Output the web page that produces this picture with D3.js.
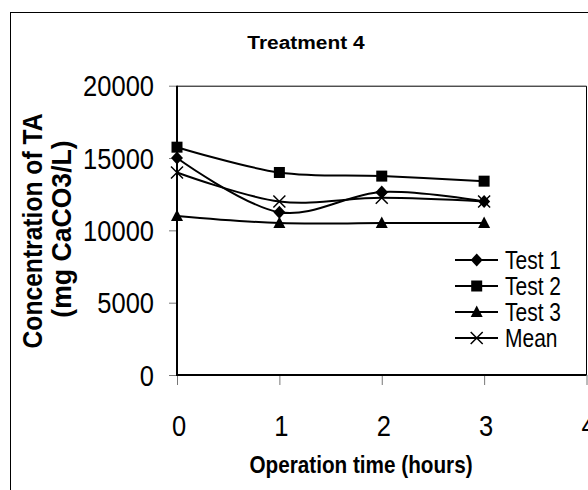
<!DOCTYPE html>
<html><head><meta charset="utf-8">
<script src="https://cdn.jsdelivr.net/npm/d3@7"></script>
<style>html,body{margin:0;padding:0;background:#fff;}svg{display:block;}</style>
</head><body>
<script>
const hours = [0, 1, 2, 3];
const test1 = [15000, 11250, 12650, 12000];
const test2 = [15750, 14000, 13750, 13400];
const test3 = [11000, 10500, 10500, 10500];
const meanV = [14000, 12000, 12250, 12000];
const seriesNames = ["Test 1", "Test 2", "Test 3", "Mean"];
const markerTypes = ["diamond", "square", "triangle", "x"];
const yTicks = [0, 5000, 10000, 15000, 20000];
const xTicks = [0, 1, 2, 3, 4];
const chartTitle = "Treatment 4";
const yTitle1 = "Concentration of TA";
const yTitle2 = "(mg CaCO3/L)";
const xTitle = "Operation time (hours)";

const W = 588, H = 490;
const FONT = "'Liberation Sans', Arial, sans-serif";
const svg = d3.select("body").append("svg").attr("width", W).attr("height", H);

// outer chart border
svg.append("rect").attr("x", 10.5).attr("y", 12.5).attr("width", 700).attr("height", 600)
  .attr("fill", "none").attr("stroke", "#000").attr("stroke-width", 1);

const x = d3.scaleLinear().domain([0, 4]).range([177, 586.5]);
const y = d3.scaleLinear().domain([0, 20000]).range([375, 85.7]);

function txt(str, px, py, opts) {
  const o = Object.assign({size: 30, weight: "normal", anchor: "middle", rot: 0, sx: 0.85}, opts || {});
  const g = svg.append("g").attr("transform", `translate(${px},${py}) rotate(${o.rot}) scale(${o.sx},1)`);
  g.append("text").attr("x", 0).attr("y", 0).attr("text-anchor", o.anchor)
    .attr("font-family", FONT).attr("font-size", o.size).attr("font-weight", o.weight)
    .attr("fill", "#000").text(str);
  return g;
}

// plot area frame (top and right)
svg.append("path")
  .attr("d", `M${x(0)},${y(20000)+0.5}H${x(4)}V${y(0)}`)
  .attr("fill", "none").attr("stroke", "#000").attr("stroke-width", 1);

// y axis
const yAxis = d3.axisLeft(y).tickValues(yTicks).tickSize(8).tickFormat("");
const gy = svg.append("g").attr("transform", `translate(${x(0)},0)`).call(yAxis);
gy.select(".domain").remove();
gy.selectAll(".tick line").attr("stroke", "#777").attr("stroke-width", 1);
svg.append("line").attr("x1", x(0)).attr("x2", x(0)).attr("y1", y(20000)).attr("y2", y(0)+1)
  .attr("stroke", "#000").attr("stroke-width", 2);
yTicks.forEach(v => txt(String(v), 154, y(v) + 10.5, {anchor: "end"}));

// x axis
const xAxis = d3.axisBottom(x).tickValues(xTicks).tickSize(10).tickFormat("");
const gx = svg.append("g").attr("transform", `translate(0,${y(0)})`).call(xAxis);
gx.select(".domain").remove();
gx.selectAll(".tick line").attr("stroke", "#777").attr("stroke-width", 1);
svg.append("line").attr("x1", x(0)-1).attr("x2", x(4)).attr("y1", y(0)).attr("y2", y(0))
  .attr("stroke", "#000").attr("stroke-width", 2);
xTicks.forEach(v => txt(String(v), x(v) + 2, 436));

// titles
txt(chartTitle, 306, 49, {size: 19, weight: "bold", sx: 1.1});
txt(xTitle, 361, 473, {size: 23, weight: "bold", sx: 0.9});
txt(yTitle1, 42, 231, {size: 28, weight: "bold", rot: -90, sx: 0.88});
txt(yTitle2, 71, 229, {size: 28, weight: "bold", rot: -90, sx: 0.95});

// markers
function marker(g, type, cx, cy) {
  if (type === "diamond") {
    g.append("path").attr("d", `M${cx},${cy-6.5}L${cx+6},${cy}L${cx},${cy+6.5}L${cx-6},${cy}Z`).attr("fill", "#000");
  } else if (type === "square") {
    g.append("rect").attr("x", cx-5.5).attr("y", cy-5.5).attr("width", 11).attr("height", 11).attr("fill", "#000");
  } else if (type === "triangle") {
    g.append("path").attr("d", `M${cx},${cy-6.5}L${cx+6},${cy+5}L${cx-6},${cy+5}Z`).attr("fill", "#000");
  } else {
    g.append("path").attr("d", `M${cx-6},${cy-6}L${cx+6},${cy+6}M${cx+6},${cy-6}L${cx-6},${cy+6}`)
      .attr("stroke", "#000").attr("stroke-width", 1.5).attr("fill", "none");
  }
}

const allSeries = [test1, test2, test3, meanV];
const line = d3.line().x((d, i) => x(hours[i])).y(d => y(d)).curve(d3.curveCardinal.tension(0));
allSeries.forEach((vals, si) => {
  svg.append("path").datum(vals).attr("d", line).attr("fill", "none")
    .attr("stroke", "#000").attr("stroke-width", 2);
});
allSeries.forEach((vals, si) => {
  const g = svg.append("g");
  vals.forEach((v, i) => marker(g, markerTypes[si], x(hours[i]), y(v)));
});

// legend
const legY = [260, 286, 312, 338];
seriesNames.forEach((name, i) => {
  const ly = legY[i];
  svg.append("line").attr("x1", 455).attr("x2", 498).attr("y1", ly).attr("y2", ly)
    .attr("stroke", "#000").attr("stroke-width", 2);
  marker(svg.append("g"), markerTypes[i], 476.7, ly);
  txt(name, 505, ly + 9, {size: 25, anchor: "start", sx: 0.84});
});
</script>
</body></html>
